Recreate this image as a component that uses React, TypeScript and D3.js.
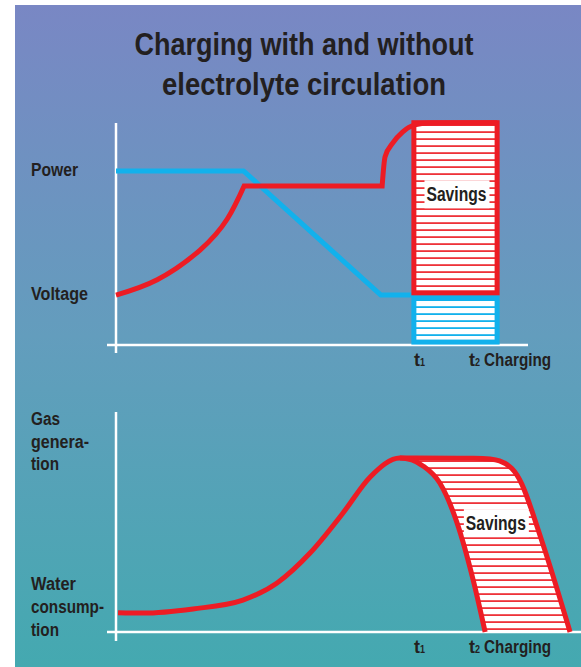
import * as d3 from "d3";

const W = 581;
const H = 667;

// time axis, shared by both panels (arbitrary units)
const T1 = 72.3;
const T2 = 92.5;

// top panel: voltage (blue) and power (red)
const voltage: [number, number][] = [[0, 77.3], [31, 77.3], [64.3, 22.2], [T1, 22.2]];
const powerRamp: [number, number][] = [[0, 22.2], [10, 29], [20.4, 42.2], [27, 56], [31.1, 70.7]];
const powerRise: [number, number][] = [[64.6, 70.7], [65.3, 83.6], [67.2, 89.8], [69.6, 94.7], [72.5, 97.8], [76, 98.7], [T2, 98.8]];
const savingsTop = { x0: T1, x1: T2, y0: 23.2, y1: 98.8 };
const voltageBox = { x0: T1, x1: T2, y0: 1.3, y1: 21 };

// bottom panel: gas generation / water consumption (red)
const gasCurve: [number, number][] = [
  [0.5, 8.8], [6.6, 8.6], [18.7, 10.5], [30.8, 14.5], [39.1, 22.3], [47.1, 35.9],
  [55.1, 54.1], [61.7, 70.5], [68.9, 79.1], [71.8, 78.2], [74.5, 75.5], [78.6, 67.7],
  [82.8, 49.5], [86.7, 23.6], [89.6, 0],
];
const PEAK = 8; // index of the maximum in gasCurve
const gasReduced: [number, number][] = [
  [68.9, 79.1], [89.6, 79.1], [93.2, 78.2], [96.1, 75], [98.5, 68.2], [100.9, 55.5],
  [104.1, 37.3], [107.3, 18.2], [110.2, 0],
];

const titleLines = [
  { text: "Charging with and without", len: 339 },
  { text: "electrolyte circulation", len: 284 },
];
const topLabels = [
  { text: "Power", v: 77.3, len: 47 },
  { text: "Voltage", v: 22.2, len: 57 },
];
const gasLabel = [{ text: "Gas", len: 29 }, { text: "genera-", len: 58 }, { text: "tion", len: 28 }];
const waterLabel = [{ text: "Water", len: 45 }, { text: "consump-", len: 73 }, { text: "tion", len: 28 }];

const RED = "#ed1c24";
const BLUE = "#12b1ec";
const INK = "#231f20";
const FONT = "'Liberation Sans', Arial, sans-serif";

const x = d3.scaleLinear().domain([0, 100]).range([116, 528]);
const yTop = d3.scaleLinear().domain([0, 100]).range([345, 120]);
const yBot = d3.scaleLinear().domain([0, 100]).range([632, 412]);

const rampTop = d3.line<[number, number]>().x(d => x(d[0])).y(d => yTop(d[1])).curve(d3.curveNatural);
const curveTop = d3.line<[number, number]>().x(d => x(d[0])).y(d => yTop(d[1])).curve(d3.curveMonotoneX);
const linearTop = d3.line<[number, number]>().x(d => x(d[0])).y(d => yTop(d[1]));
const curveBot = d3.line<[number, number]>().x(d => x(d[0])).y(d => yBot(d[1])).curve(d3.curveMonotoneX);
const smoothBot = d3.line<[number, number]>().x(d => x(d[0])).y(d => yBot(d[1])).curve(d3.curveBasis);

// glue several path strings into one continuous path
const joinPaths = (parts: string[]) => parts.map((p, i) => (i === 0 ? p : "L" + p.slice(1))).join("");

const Savings = ({ cx, cy }: { cx: number; cy: number }) => (
  <g>
    <rect x={cx - 32} y={cy - 14} width={65} height={28} fill="#fff" />
    <text x={cx - 30} y={cy + 7} fontSize={20} fontWeight="bold" fill={INK}
      textLength={60} lengthAdjust="spacingAndGlyphs">Savings</text>
  </g>
);

const TickLabels = ({ y }: { y: number }) => (
  <g fontSize={18} fontWeight="bold" fill={INK}>
    <text x={x(T1)} y={y}>t</text>
    <text x={x(T1) + 6} y={y} fontSize={10} textLength={5} lengthAdjust="spacingAndGlyphs">1</text>
    <text x={x(T2) - 28} y={y}>t</text>
    <text x={x(T2) - 22} y={y} fontSize={10} textLength={5} lengthAdjust="spacingAndGlyphs">2</text>
    <text x={x(T2) - 13} y={y} textLength={67} lengthAdjust="spacingAndGlyphs">Charging</text>
  </g>
);

export default function App() {
  const powerPath = joinPaths([rampTop(powerRamp)!, curveTop(powerRise)!]);
  const hatchBot =
    joinPaths([smoothBot(gasReduced)!, curveBot(gasCurve.slice(PEAK).reverse())!]) + "Z";

  return (
    <div style={{ position: "absolute", left: 0, top: 0 }}>
      <svg width={W} height={H} fontFamily={FONT}>
        <defs>
          <linearGradient id="bg" x1="0" y1="0" x2="0" y2="1">
            <stop offset="0" stopColor="#7987c4" />
            <stop offset="0.5" stopColor="#639dbd" />
            <stop offset="1" stopColor="#44a9b0" />
          </linearGradient>
          <pattern id="hatchRed" patternUnits="userSpaceOnUse" width={8} height={7}>
            <rect width={8} height={7} fill="#fff" />
            <rect y={5.2} width={8} height={1.8} fill={RED} opacity={0.9} />
          </pattern>
          <pattern id="hatchBlue" patternUnits="userSpaceOnUse" width={8} height={7}>
            <rect width={8} height={7} fill="#fff" />
            <rect y={5.2} width={8} height={1.8} fill={BLUE} />
          </pattern>
        </defs>

        <rect width={W} height={H} fill="#fff" />
        <rect x={15} y={5} width={W - 15} height={H - 5} fill="url(#bg)" />

        <g fontSize={32} fontWeight="bold" fill={INK}>
          {titleLines.map((t, i) => (
            <text key={t.text} x={304 - t.len / 2} y={55 + i * 40}
              textLength={t.len} lengthAdjust="spacingAndGlyphs">{t.text}</text>
          ))}
        </g>

        {/* top panel */}
        <g stroke="#fff" strokeWidth={2.5}>
          <line x1={116} x2={116} y1={123} y2={353} />
          <line x1={107} x2={528} y1={yTop(0)} y2={yTop(0)} />
        </g>
        <g fontSize={17.5} fontWeight="bold" fill={INK}>
          {topLabels.map(l => (
            <text key={l.text} x={31} y={yTop(l.v) + 5} textLength={l.len} lengthAdjust="spacingAndGlyphs">{l.text}</text>
          ))}
        </g>
        <rect x={x(voltageBox.x0)} y={yTop(voltageBox.y1)} width={x(voltageBox.x1) - x(voltageBox.x0)}
          height={yTop(voltageBox.y0) - yTop(voltageBox.y1)} fill="url(#hatchBlue)" stroke={BLUE} strokeWidth={5} />
        <path d={linearTop(voltage)!} fill="none" stroke={BLUE} strokeWidth={5} strokeLinejoin="round" />
        <rect x={x(savingsTop.x0)} y={yTop(savingsTop.y1)} width={x(savingsTop.x1) - x(savingsTop.x0)}
          height={yTop(savingsTop.y0) - yTop(savingsTop.y1)} fill="url(#hatchRed)" stroke={RED} strokeWidth={5} />
        <path d={powerPath} fill="none" stroke={RED} strokeWidth={5} />
        <Savings cx={x((T1 + T2) / 2) + 1} cy={yTop(67)} />
        <TickLabels y={366} />

        {/* bottom panel */}
        <g stroke="#fff" strokeWidth={2.5}>
          <line x1={116} x2={116} y1={412} y2={641} />
          <line x1={107} x2={W} y1={yBot(0)} y2={yBot(0)} />
        </g>
        <g fontSize={17.5} fontWeight="bold" fill={INK}>
          {gasLabel.map((t, i) => (
            <text key={"g" + i} x={31} y={425 + i * 22.5} textLength={t.len} lengthAdjust="spacingAndGlyphs">{t.text}</text>
          ))}
          {waterLabel.map((t, i) => (
            <text key={"w" + i} x={31} y={590 + i * 23} textLength={t.len} lengthAdjust="spacingAndGlyphs">{t.text}</text>
          ))}
        </g>
        <path d={hatchBot} fill="url(#hatchRed)" />
        <path d={smoothBot(gasReduced)!} fill="none" stroke={RED} strokeWidth={5} />
        <path d={curveBot(gasCurve)!} fill="none" stroke={RED} strokeWidth={5} />
        <Savings cx={x(92.2)} cy={yBot(49.5)} />
        <TickLabels y={653} />
      </svg>
    </div>
  );
}
